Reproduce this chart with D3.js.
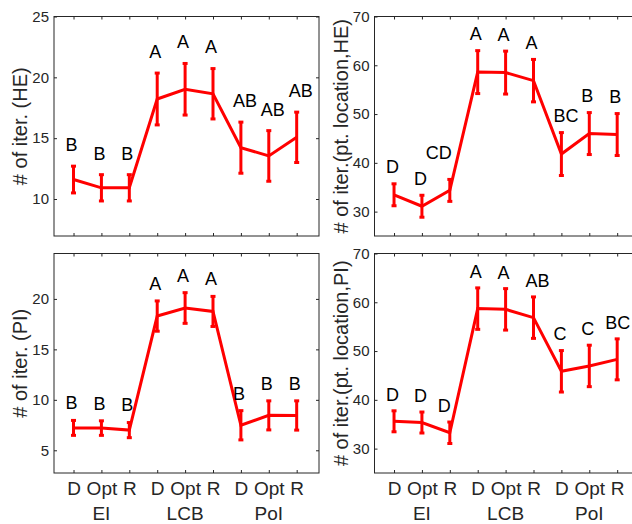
<!DOCTYPE html>
<html>
<head>
<meta charset="utf-8">
<script src="https://cdn.jsdelivr.net/npm/d3@7"></script>
<style>
  body { margin: 0; background: #fff; }
  svg { display: block; font-family: "Liberation Sans", Arial, Helvetica, sans-serif; }
</style>
</head>
<body>
<div id="chart"></div>
<script>
"use strict";
(function(){
    // x categories (3 strategies x 3 acquisition functions)
    const conditions = ["D", "Opt", "R", "D", "Opt", "R", "D", "Opt", "R"]
    const groups = ["EI", "LCB", "PoI"]

    // # of iterations (HE)
    const heIterMean = [11.6, 10.92, 10.92, 18.22, 19.02, 18.65, 14.22, 13.54, 15.07]
    const heIterErr = [1.1, 1.08, 1.08, 2.13, 2.12, 2.07, 2.1, 2.08, 2.07]
    const heIterLetters = ["B", "B", "B", "A", "A", "A", "AB", "AB", "AB"]
    const heIterTicks = [10, 15, 20, 25]

    // # of iterations (pt. location, HE)
    const heLocMean = [33.45, 31.1, 34.35, 58.6, 58.5, 56.85, 41.8, 46.0, 45.8]
    const heLocErr = [2.25, 2.25, 2.25, 4.4, 4.4, 4.35, 4.4, 4.3, 4.3]
    const heLocLetters = ["D", "D", "CD", "A", "A", "A", "BC", "B", "B"]

    // # of iterations (PI)
    const piIterMean = [7.22, 7.2, 7.0, 18.3, 19.1, 18.76, 7.48, 8.46, 8.45]
    const piIterErr = [0.74, 0.72, 0.75, 1.5, 1.52, 1.49, 1.45, 1.44, 1.45]
    const piIterLetters = ["B", "B", "B", "A", "A", "A", "B", "B", "B"]
    const piIterTicks = [5, 10, 15, 20]

    // # of iterations (pt. location, PI)
    const piLocMean = [35.6, 35.35, 33.25, 58.7, 58.55, 56.85, 45.85, 46.95, 48.3]
    const piLocErr = [2.15, 2.15, 2.2, 4.25, 4.25, 4.25, 4.25, 4.25, 4.2]
    const piLocLetters = ["D", "D", "D", "A", "A", "AB", "C", "C", "BC"]

    const locTicks = [30, 40, 50, 60, 70]

    const measurements = {
        width: 632,
        height: 524,
        panelW: 265,
        panelH: 219.5
    }

    const panels = [
        { mean: heIterMean, err: heIterErr, letters: heIterLetters, ticks: heIterTicks,
          domain: [6.96, 25], label: "# of iter. (HE)", left: 54, top: 16.5, gap: 21.5, xLabels: false, nudge: {} },
        { mean: heLocMean, err: heLocErr, letters: heLocLetters, ticks: locTicks,
          domain: [25, 70], label: "# of iter.(pt. location,HE)", left: 374.5, top: 16.5, gap: 17, xLabels: false,
          nudge: { 2: [-16, -10] } },
        { mean: piIterMean, err: piIterErr, letters: piIterLetters, ticks: piIterTicks,
          domain: [2.75, 24.5], label: "# of iter. (PI)", left: 54, top: 253.5, gap: 17.5, xLabels: true, nudge: {} },
        { mean: piLocMean, err: piLocErr, letters: piLocLetters, ticks: locTicks,
          domain: [25, 70], label: "# of iter.(pt. location,PI)", left: 374.5, top: 253.5, gap: 16.5, xLabels: true,
          nudge: { 2: [-4, 0], 8: [-4, 0] } }
    ]

    const svgContainer = d3.select("#chart").append("svg")
        .attr("width", measurements.width)
        .attr("height", measurements.height)

    const scaleX = d3.scaleLinear()
        .domain([0.3, 9.8])
        .range([0, measurements.panelW])

    panels.forEach(function(p) {
        const g = svgContainer.append("g")
            .attr("transform", "translate(" + p.left + "," + p.top + ")")
        const scaleY = d3.scaleLinear()
            .domain(p.domain)
            .range([measurements.panelH, 0])
        drawAxes(g, p, scaleY)
        plotData(g, p, scaleY)
    })

    function drawAxes(g, p, scaleY) {
        const w = measurements.panelW
        const h = measurements.panelH
        const idx = d3.range(1, 10)

        const xBottom = d3.axisBottom(scaleX)
            .tickValues(idx)
            .tickSizeInner(-3)
            .tickSizeOuter(0)
            .tickPadding(8.5)
            .tickFormat(function(d) { return p.xLabels ? conditions[d - 1] : "" })
        const xTop = d3.axisTop(scaleX)
            .tickValues(idx)
            .tickSizeInner(-3)
            .tickSizeOuter(0)
            .tickFormat("")
        const yLeft = d3.axisLeft(scaleY)
            .tickValues(p.ticks)
            .tickSizeInner(-3)
            .tickSizeOuter(0)
            .tickPadding(5)
        const yRight = d3.axisRight(scaleY)
            .tickValues(p.ticks)
            .tickSizeInner(-3)
            .tickSizeOuter(0)
            .tickFormat("")

        const axes = [
            g.append("g").attr("transform", "translate(0," + h + ")").call(xBottom),
            g.append("g").call(xTop),
            g.append("g").call(yLeft),
            g.append("g").attr("transform", "translate(" + w + ",0)").call(yRight)
        ]
        axes.forEach(function(a) {
            a.select(".domain").remove()
            a.selectAll("line").attr("stroke", "#262626")
            a.selectAll("text").attr("fill", "#262626")
        })
        axes[0].selectAll("text").style("font-size", "19px")
        axes[2].selectAll("text").style("font-size", "15px")

        // box
        g.append("rect")
            .attr("width", w)
            .attr("height", h)
            .attr("fill", "none")
            .attr("stroke", "#262626")
            .attr("stroke-width", 1)

        if (p.xLabels) {
            g.selectAll(".group")
                .data(groups)
                .enter().append("text")
                .attr("x", function(d, i) { return scaleX(i * 3 + 2) })
                .attr("y", h + 47)
                .style("text-anchor", "middle")
                .style("font-size", "19px")
                .attr("fill", "#262626")
                .text(function(d) { return d })
        }

        g.append("text")
            .attr("transform", "translate(-27," + (h / 2) + ") rotate(-90)")
            .style("text-anchor", "middle")
            .style("font-size", "20px")
            .attr("fill", "#262626")
            .text(p.label)
    }

    function plotData(g, p, scaleY) {
        const line = d3.line()
            .x(function(d, i) { return scaleX(i + 1) })
            .y(function(d) { return scaleY(d) })

        g.append("path")
            .datum(p.mean)
            .attr("d", line)
            .attr("fill", "none")
            .attr("stroke", "#ff0000")
            .attr("stroke-width", 3)

        const bars = g.selectAll(".errbar")
            .data(p.mean)
            .enter().append("g")
            .attr("class", "errbar")

        bars.append("line")
            .attr("x1", function(d, i) { return scaleX(i + 1) })
            .attr("x2", function(d, i) { return scaleX(i + 1) })
            .attr("y1", function(d, i) { return scaleY(d - p.err[i]) })
            .attr("y2", function(d, i) { return scaleY(d + p.err[i]) })
            .attr("stroke", "#ff0000")
            .attr("stroke-width", 3)

        // caps
        ;[-1, 1].forEach(function(sgn) {
            bars.append("line")
                .attr("x1", function(d, i) { return scaleX(i + 1) - 2.5 })
                .attr("x2", function(d, i) { return scaleX(i + 1) + 2.5 })
                .attr("y1", function(d, i) { return scaleY(d + sgn * p.err[i]) })
                .attr("y2", function(d, i) { return scaleY(d + sgn * p.err[i]) })
                .attr("stroke", "#ff0000")
                .attr("stroke-width", 3)
        })

        // significance letters
        g.selectAll(".letter")
            .data(p.letters)
            .enter().append("text")
            .attr("class", "letter")
            .attr("x", function(d, i) {
                const n = p.nudge[i] ? p.nudge[i][0] : 0
                return scaleX(i + 1) - 8 + n
            })
            .attr("y", function(d, i) {
                const n = p.nudge[i] ? p.nudge[i][1] : 0
                return scaleY(p.mean[i] + p.err[i]) - p.gap + 6.4 + n
            })
            .style("font-size", "18px")
            .attr("fill", "#000")
            .text(function(d) { return d })
    }
})()
</script>
</body>
</html>
